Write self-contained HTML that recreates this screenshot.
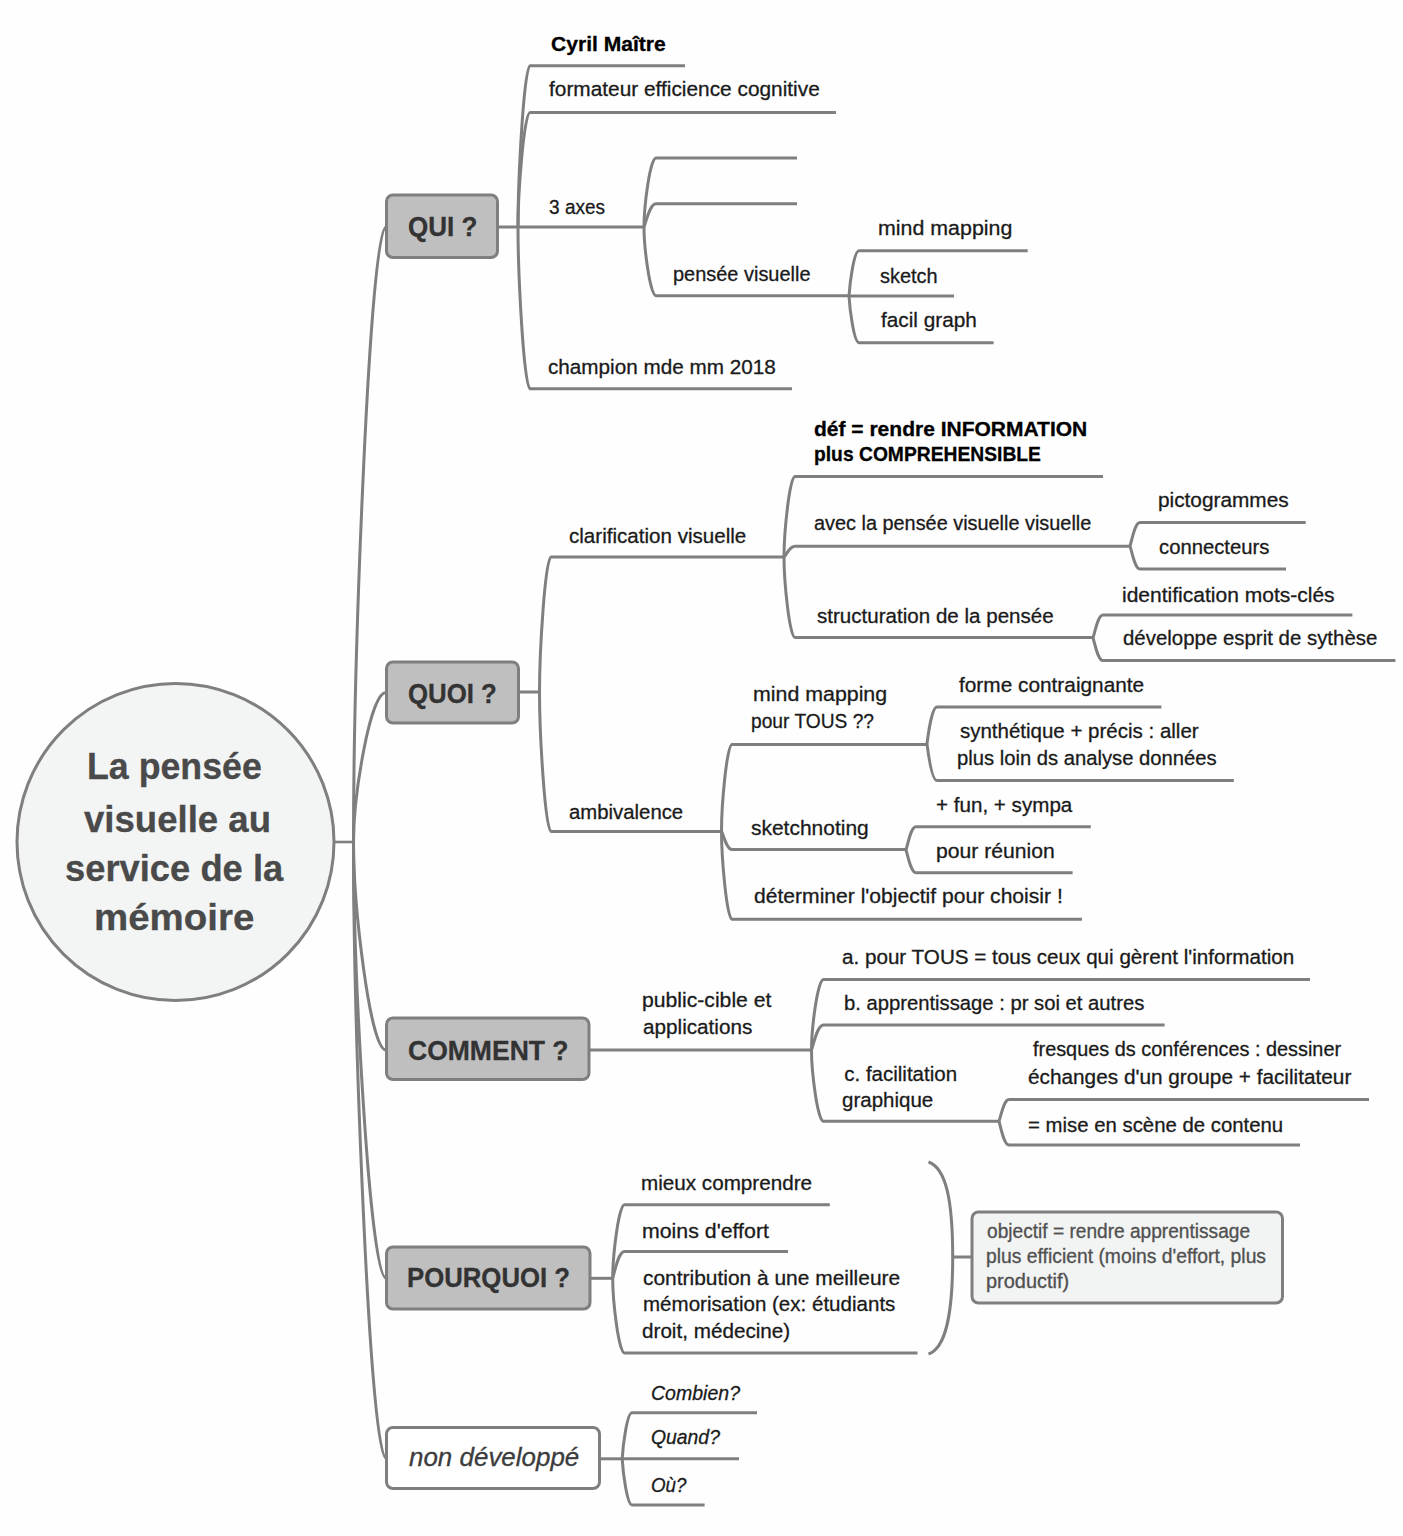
<!DOCTYPE html>
<html><head><meta charset="utf-8"><title>La pensée visuelle au service de la mémoire</title>
<style>
html,body{margin:0;padding:0;background:#fefefe;}
body{width:1403px;height:1536px;position:relative;overflow:hidden;font-family:"Liberation Sans",sans-serif;}
svg{position:absolute;left:0;top:0;}
.t div{position:absolute;white-space:pre;transform-origin:0 0;-webkit-text-stroke:0.3px currentColor;}
</style></head><body>
<svg width="1403" height="1536" viewBox="0 0 1403 1536">
<g fill="none" stroke="#7f7f7f" stroke-linecap="butt" stroke-linejoin="round">
<path d="M334.0,842.0 L354.0,842.0" stroke-width="2.6"/>
<path d="M353.5,842 C353.5,657.5 369.8,227.0 386,227.0" stroke-width="3"/>
<path d="M353.5,842 C353.5,797.1 369.8,692.5 386,692.5" stroke-width="3"/>
<path d="M353.5,842 C353.5,904.4 369.8,1050.0 386,1050.0" stroke-width="3"/>
<path d="M353.5,842 C353.5,972.8 369.8,1278.0 386,1278.0" stroke-width="3"/>
<path d="M353.5,842 C353.5,1026.8 369.8,1458.0 386,1458.0" stroke-width="3"/>
<path d="M498.0,227.0 L518.0,227.0" stroke-width="3"/>
<path d="M518.0,227.0 C518.0,178.6 524.0,65.7 530.0,65.7 L685.0,65.7" stroke-width="3"/>
<path d="M518.0,227.0 C518.0,192.7 524.0,112.5 530.0,112.5 L836.0,112.5" stroke-width="3"/>
<path d="M518.0,227.0 L644.0,227.0" stroke-width="3"/>
<path d="M518.0,227.0 C518.0,275.5 524.0,388.7 530.0,388.7 L792.0,388.7" stroke-width="3"/>
<path d="M644.0,227.0 C644.0,206.3 650.0,158.0 656.0,158.0 L797.0,158.0" stroke-width="3"/>
<path d="M644.0,227.0 C646.6,220.0 650.0,203.8 656.0,203.8 L797.0,203.8" stroke-width="3"/>
<path d="M644.0,227.0 C644.0,247.6 650.0,295.7 656.0,295.7 L849.0,295.7" stroke-width="3"/>
<path d="M849.0,296.0 C849.9,282.4 854.0,250.8 859.0,250.8 L1027.7,250.8" stroke-width="3"/>
<path d="M849.0,296.0 L954.0,296.0" stroke-width="3"/>
<path d="M849.0,296.0 C849.8,310.0 854.0,342.7 859.0,342.7 L993.6,342.7" stroke-width="3"/>
<path d="M519.0,692.0 L539.5,692.0" stroke-width="3"/>
<path d="M539.5,692.0 C539.5,651.5 545.2,557.0 551.0,557.0 L784.0,557.0" stroke-width="3"/>
<path d="M539.5,692.0 C539.5,733.9 545.2,831.5 551.0,831.5 L721.5,831.5" stroke-width="3"/>
<path d="M784.0,557.0 C784.0,532.9 789.5,476.5 795.0,476.5 L1103.0,476.5" stroke-width="3"/>
<path d="M784.0,557.0 C787.2,553.8 789.5,546.3 795.0,546.3 L1130.0,546.3" stroke-width="3"/>
<path d="M784.0,557.0 C784.0,581.2 789.5,637.6 795.0,637.6 L1093.0,637.6" stroke-width="3"/>
<path d="M1130.0,546.0 C1132.1,539.0 1135.0,522.5 1140.0,522.5 L1305.7,522.5" stroke-width="3"/>
<path d="M1130.0,546.0 C1132.2,552.9 1135.0,569.0 1140.0,569.0 L1286.0,569.0" stroke-width="3"/>
<path d="M1093.0,638.0 C1095.2,631.1 1098.0,615.0 1103.0,615.0 L1352.4,615.0" stroke-width="3"/>
<path d="M1093.0,638.0 C1095.2,644.8 1098.0,660.6 1103.0,660.6 L1395.4,660.6" stroke-width="3"/>
<path d="M721.5,831.0 C721.5,805.0 726.8,744.5 732.0,744.5 L927.0,744.5" stroke-width="3"/>
<path d="M721.5,831.0 C724.0,836.6 726.8,849.6 732.0,849.6 L906.0,849.6" stroke-width="3"/>
<path d="M721.5,831.0 C721.5,857.5 726.8,919.3 732.0,919.3 L1082.0,919.3" stroke-width="3"/>
<path d="M927.0,744.0 C928.3,732.9 932.0,707.0 937.0,707.0 L1161.4,707.0" stroke-width="3"/>
<path d="M927.0,744.0 C928.4,755.0 932.0,780.5 937.0,780.5 L1233.8,780.5" stroke-width="3"/>
<path d="M906.0,850.0 C908.1,843.0 911.0,826.7 916.0,826.7 L1090.8,826.7" stroke-width="3"/>
<path d="M906.0,850.0 C908.2,856.8 911.0,872.8 916.0,872.8 L1072.6,872.8" stroke-width="3"/>
<path d="M589.5,1050.0 L811.5,1050.0" stroke-width="3"/>
<path d="M811.5,1050.0 C811.5,1028.8 817.5,979.5 823.5,979.5 L1310.0,979.5" stroke-width="3"/>
<path d="M811.5,1050.0 C814.0,1042.5 817.5,1025.0 823.5,1025.0 L1164.6,1025.0" stroke-width="3"/>
<path d="M811.5,1050.0 C811.5,1071.4 817.5,1121.3 823.5,1121.3 L999.0,1121.3" stroke-width="3"/>
<path d="M999.0,1121.3 C1001.2,1114.8 1004.0,1099.5 1009.0,1099.5 L1369.0,1099.5" stroke-width="3"/>
<path d="M999.0,1121.3 C1001.1,1128.4 1004.0,1145.0 1009.0,1145.0 L1300.0,1145.0" stroke-width="3"/>
<path d="M590.5,1278.3 L612.7,1278.3" stroke-width="3"/>
<path d="M612.7,1278.3 C612.7,1256.2 618.6,1204.7 624.5,1204.7 L829.8,1204.7" stroke-width="3"/>
<path d="M612.7,1278.3 C615.0,1270.2 618.6,1251.4 624.5,1251.4 L788.0,1251.4" stroke-width="3"/>
<path d="M612.7,1278.3 C612.7,1300.7 618.6,1353.0 624.5,1353.0 L917.5,1353.0" stroke-width="3"/>
<path d="M928.5,1162 C946,1168 952.7,1200 952.7,1257 C952.7,1314 946,1348 928.5,1354" stroke-width="3"/>
<path d="M952.0,1257.0 L971.0,1257.0" stroke-width="3"/>
<path d="M600.0,1458.8 L622.2,1458.8" stroke-width="3"/>
<path d="M622.2,1458.8 C623.0,1445.0 627.1,1412.7 632.0,1412.7 L757.0,1412.7" stroke-width="3"/>
<path d="M622.2,1458.8 L739.0,1458.8" stroke-width="3"/>
<path d="M622.2,1458.8 C623.0,1472.7 627.1,1505.0 632.0,1505.0 L704.6,1505.0" stroke-width="3"/>
</g>
<circle cx="175.5" cy="842" r="158.5" fill="#f3f5f5" stroke="#7f7f7f" stroke-width="3"/><rect x="386.5" y="195.0" width="111.0" height="62.5" rx="6.5" fill="#bfbfbf" stroke="#7f7f7f" stroke-width="3"/><rect x="386.5" y="662.0" width="132.0" height="61.0" rx="6.5" fill="#bfbfbf" stroke="#7f7f7f" stroke-width="3"/><rect x="386.5" y="1018.0" width="202.5" height="61.5" rx="6.5" fill="#bfbfbf" stroke="#7f7f7f" stroke-width="3"/><rect x="386.5" y="1247.0" width="203.5" height="62.0" rx="6.5" fill="#bfbfbf" stroke="#7f7f7f" stroke-width="3"/><rect x="972.0" y="1212.0" width="310.5" height="91.0" rx="6.5" fill="#f2f3f3" stroke="#7f7f7f" stroke-width="3"/><rect x="386.5" y="1427.5" width="213.0" height="61.0" rx="6.5" fill="#ffffff" stroke="#7f7f7f" stroke-width="3"/>
</svg>
<div class="t">
<div style="left:407.54px;top:212.16px;font-size:27px;line-height:30.159px;font-weight:bold;font-style:normal;color:#333;transform:scaleX(0.9640);">QUI ?</div>
<div style="left:550.93px;top:32.95px;font-size:20.5px;line-height:22.898px;font-weight:bold;font-style:normal;color:#000;transform:scaleX(1.0277);">Cyril Maître</div>
<div style="left:548.75px;top:78.45px;font-size:20.5px;line-height:22.898px;font-weight:normal;font-style:normal;color:#1a1a1a;transform:scaleX(1.0168);">formateur efficience cognitive</div>
<div style="left:549.10px;top:196.45px;font-size:20.5px;line-height:22.898px;font-weight:normal;font-style:normal;color:#1a1a1a;transform:scaleX(0.9288);">3 axes</div>
<div style="left:548.14px;top:355.75px;font-size:20.5px;line-height:22.898px;font-weight:normal;font-style:normal;color:#1a1a1a;transform:scaleX(1.0094);">champion mde mm 2018</div>
<div style="left:673.28px;top:263.15px;font-size:20.5px;line-height:22.898px;font-weight:normal;font-style:normal;color:#1a1a1a;transform:scaleX(0.9731);">pensée visuelle</div>
<div style="left:877.70px;top:216.75px;font-size:20.5px;line-height:22.898px;font-weight:normal;font-style:normal;color:#1a1a1a;transform:scaleX(1.0432);">mind mapping</div>
<div style="left:879.51px;top:265.45px;font-size:20.5px;line-height:22.898px;font-weight:normal;font-style:normal;color:#1a1a1a;transform:scaleX(0.9739);">sketch</div>
<div style="left:881.15px;top:309.45px;font-size:20.5px;line-height:22.898px;font-weight:normal;font-style:normal;color:#1a1a1a;transform:scaleX(1.0140);">facil graph</div>
<div style="left:408.24px;top:678.57px;font-size:27px;line-height:30.159px;font-weight:bold;font-style:normal;color:#333;transform:scaleX(0.9558);">QUOI ?</div>
<div style="left:569.05px;top:525.45px;font-size:20.5px;line-height:22.898px;font-weight:normal;font-style:normal;color:#1a1a1a;transform:scaleX(1.0040);">clarification visuelle</div>
<div style="left:569.26px;top:800.85px;font-size:20.5px;line-height:22.898px;font-weight:normal;font-style:normal;color:#1a1a1a;transform:scaleX(0.9921);">ambivalence</div>
<div style="left:813.93px;top:417.75px;font-size:20.5px;line-height:22.898px;font-weight:bold;font-style:normal;color:#000;transform:scaleX(1.0246);">déf = rendre INFORMATION</div>
<div style="left:813.53px;top:443.15px;font-size:20.5px;line-height:22.898px;font-weight:bold;font-style:normal;color:#000;transform:scaleX(0.9399);">plus COMPREHENSIBLE</div>
<div style="left:813.97px;top:511.85px;font-size:20.5px;line-height:22.898px;font-weight:normal;font-style:normal;color:#1a1a1a;transform:scaleX(0.9694);">avec la pensée visuelle visuelle</div>
<div style="left:816.50px;top:604.75px;font-size:20.5px;line-height:22.898px;font-weight:normal;font-style:normal;color:#1a1a1a;transform:scaleX(1.0034);">structuration de la pensée</div>
<div style="left:1158.13px;top:489.25px;font-size:20.5px;line-height:22.898px;font-weight:normal;font-style:normal;color:#1a1a1a;transform:scaleX(1.0146);">pictogrammes</div>
<div style="left:1158.66px;top:536.45px;font-size:20.5px;line-height:22.898px;font-weight:normal;font-style:normal;color:#1a1a1a;transform:scaleX(0.9887);">connecteurs</div>
<div style="left:1122.42px;top:583.75px;font-size:20.5px;line-height:22.898px;font-weight:normal;font-style:normal;color:#1a1a1a;transform:scaleX(1.0253);">identification mots-clés</div>
<div style="left:1123.45px;top:627.45px;font-size:20.5px;line-height:22.898px;font-weight:normal;font-style:normal;color:#1a1a1a;transform:scaleX(0.9963);">développe esprit de sythèse</div>
<div style="left:753.20px;top:683.05px;font-size:20.5px;line-height:22.898px;font-weight:normal;font-style:normal;color:#1a1a1a;transform:scaleX(1.0416);">mind mapping</div>
<div style="left:751.23px;top:710.45px;font-size:20.5px;line-height:22.898px;font-weight:normal;font-style:normal;color:#1a1a1a;transform:scaleX(0.9359);">pour TOUS ??</div>
<div style="left:751.49px;top:816.65px;font-size:20.5px;line-height:22.898px;font-weight:normal;font-style:normal;color:#1a1a1a;transform:scaleX(1.0225);">sketchnoting</div>
<div style="left:754.23px;top:885.45px;font-size:20.5px;line-height:22.898px;font-weight:normal;font-style:normal;color:#1a1a1a;transform:scaleX(1.0286);">déterminer l'objectif pour choisir !</div>
<div style="left:958.85px;top:673.65px;font-size:20.5px;line-height:22.898px;font-weight:normal;font-style:normal;color:#1a1a1a;transform:scaleX(1.0157);">forme contraignante</div>
<div style="left:959.90px;top:719.75px;font-size:20.5px;line-height:22.898px;font-weight:normal;font-style:normal;color:#1a1a1a;">synthétique + précis : aller</div>
<div style="left:956.67px;top:747.25px;font-size:20.5px;line-height:22.898px;font-weight:normal;font-style:normal;color:#1a1a1a;transform:scaleX(0.9864);">plus loin ds analyse données</div>
<div style="left:936.39px;top:794.15px;font-size:20.5px;line-height:22.898px;font-weight:normal;font-style:normal;color:#1a1a1a;transform:scaleX(1.0052);">+ fun, + sympa</div>
<div style="left:936.11px;top:840.45px;font-size:20.5px;line-height:22.898px;font-weight:normal;font-style:normal;color:#1a1a1a;transform:scaleX(1.0311);">pour réunion</div>
<div style="left:408.32px;top:1035.87px;font-size:27px;line-height:30.159px;font-weight:bold;font-style:normal;color:#333;transform:scaleX(0.9820);">COMMENT ?</div>
<div style="left:641.71px;top:989.45px;font-size:20.5px;line-height:22.898px;font-weight:normal;font-style:normal;color:#1a1a1a;transform:scaleX(1.0323);">public-cible et</div>
<div style="left:642.94px;top:1016.35px;font-size:20.5px;line-height:22.898px;font-weight:normal;font-style:normal;color:#1a1a1a;transform:scaleX(1.0098);">applications</div>
<div style="left:842.05px;top:945.55px;font-size:20.5px;line-height:22.898px;font-weight:normal;font-style:normal;color:#1a1a1a;transform:scaleX(1.0066);">a. pour TOUS = tous ceux qui gèrent l'information</div>
<div style="left:844.07px;top:991.95px;font-size:20.5px;line-height:22.898px;font-weight:normal;font-style:normal;color:#1a1a1a;transform:scaleX(0.9869);">b. apprentissage : pr soi et autres</div>
<div style="left:844.25px;top:1063.45px;font-size:20.5px;line-height:22.898px;font-weight:normal;font-style:normal;color:#1a1a1a;">c. facilitation</div>
<div style="left:842.05px;top:1089.05px;font-size:20.5px;line-height:22.898px;font-weight:normal;font-style:normal;color:#1a1a1a;">graphique</div>
<div style="left:1033.36px;top:1037.95px;font-size:20.5px;line-height:22.898px;font-weight:normal;font-style:normal;color:#1a1a1a;transform:scaleX(0.9690);">fresques ds conférences : dessiner</div>
<div style="left:1027.94px;top:1065.95px;font-size:20.5px;line-height:22.898px;font-weight:normal;font-style:normal;color:#1a1a1a;transform:scaleX(1.0135);">échanges d'un groupe + facilitateur</div>
<div style="left:1028.31px;top:1114.45px;font-size:20.5px;line-height:22.898px;font-weight:normal;font-style:normal;color:#1a1a1a;transform:scaleX(0.9929);">= mise en scène de contenu</div>
<div style="left:406.83px;top:1263.37px;font-size:27px;line-height:30.159px;font-weight:bold;font-style:normal;color:#333;transform:scaleX(0.9532);">POURQUOI ?</div>
<div style="left:641.14px;top:1171.75px;font-size:20.5px;line-height:22.898px;font-weight:normal;font-style:normal;color:#1a1a1a;transform:scaleX(1.0075);">mieux comprendre</div>
<div style="left:642.40px;top:1220.15px;font-size:20.5px;line-height:22.898px;font-weight:normal;font-style:normal;color:#1a1a1a;transform:scaleX(1.0398);">moins d'effort</div>
<div style="left:642.73px;top:1266.65px;font-size:20.5px;line-height:22.898px;font-weight:normal;font-style:normal;color:#1a1a1a;transform:scaleX(1.0210);">contribution à une meilleure</div>
<div style="left:643.25px;top:1293.15px;font-size:20.5px;line-height:22.898px;font-weight:normal;font-style:normal;color:#1a1a1a;transform:scaleX(1.0022);">mémorisation (ex: étudiants</div>
<div style="left:642.04px;top:1320.45px;font-size:20.5px;line-height:22.898px;font-weight:normal;font-style:normal;color:#1a1a1a;transform:scaleX(1.0083);">droit, médecine)</div>
<div style="left:986.76px;top:1221.33px;font-size:19.3px;line-height:21.558px;font-weight:normal;font-style:normal;color:#505050;transform:scaleX(0.9917);">objectif = rendre apprentissage</div>
<div style="left:986.25px;top:1246.13px;font-size:19.3px;line-height:21.558px;font-weight:normal;font-style:normal;color:#505050;transform:scaleX(1.0020);">plus efficient (moins d'effort, plus</div>
<div style="left:986.21px;top:1270.93px;font-size:19.3px;line-height:21.558px;font-weight:normal;font-style:normal;color:#505050;transform:scaleX(1.0346);">productif)</div>
<div style="left:409.08px;top:1443.88px;font-size:25px;line-height:27.925px;font-weight:normal;font-style:italic;color:#3c3c3c;transform:scaleX(1.0382);">non développé</div>
<div style="left:650.81px;top:1381.65px;font-size:20.5px;line-height:22.898px;font-weight:normal;font-style:italic;color:#1a1a1a;transform:scaleX(0.9528);">Combien?</div>
<div style="left:651.06px;top:1426.45px;font-size:20.5px;line-height:22.898px;font-weight:normal;font-style:italic;color:#1a1a1a;transform:scaleX(0.9444);">Quand?</div>
<div style="left:651.09px;top:1473.65px;font-size:20.5px;line-height:22.898px;font-weight:normal;font-style:italic;color:#1a1a1a;transform:scaleX(0.9139);">Où?</div>
<div style="left:86.75px;top:747.17px;font-size:36.5px;line-height:40.770px;font-weight:bold;font-style:normal;color:#4a4a4a;transform:scaleX(0.9791);">La pensée</div>
<div style="left:83.85px;top:800.17px;font-size:36.5px;line-height:40.770px;font-weight:bold;font-style:normal;color:#4a4a4a;transform:scaleX(1.0022);">visuelle au</div>
<div style="left:65.36px;top:849.17px;font-size:36.5px;line-height:40.770px;font-weight:bold;font-style:normal;color:#4a4a4a;transform:scaleX(0.9956);">service de la</div>
<div style="left:94.27px;top:898.47px;font-size:36.5px;line-height:40.770px;font-weight:bold;font-style:normal;color:#4a4a4a;transform:scaleX(1.0539);">mémoire</div>
</div>
</body></html>
